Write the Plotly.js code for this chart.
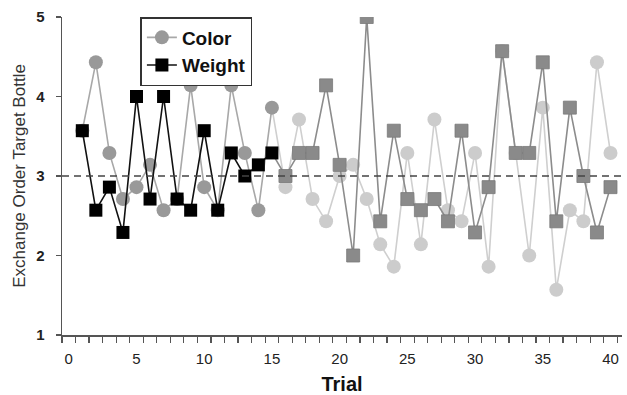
<!DOCTYPE html>
<html>
<head>
<meta charset="utf-8">
<script src="https://cdn.plot.ly/plotly-3.0.1.min.js"></script>
<style>html,body{margin:0;padding:0;background:#fff;}#chart{width:627px;height:395px;}</style>
</head>
<body>
<div id="chart"></div>
<script>
// Data (multiples of 1/7)
const trials = [1,2,3,4,5,6,7,8,9,10,11,12,13,14,15,16,17,18,19,20,
                21,22,23,24,25,26,27,28,29,30,31,32,33,34,35,36,37,38,39,40];
const colorVals = [3.57,4.43,3.29,2.71,2.86,3.14,2.57,2.71,4.14,2.86,
                   2.57,4.14,3.29,2.57,3.86,2.86,3.71,2.71,2.43,3.00,
                   3.14,2.71,2.14,1.86,3.29,2.14,3.71,2.57,2.43,3.29,
                   1.86,4.57,3.29,2.00,3.86,1.57,2.57,2.43,4.43,3.29];
const weightVals = [3.57,2.57,2.86,2.29,4.00,2.71,4.00,2.71,2.57,3.57,
                    2.57,3.29,3.00,3.14,3.29,3.00,3.29,3.29,4.14,3.14,
                    2.00,5.00,2.43,3.57,2.71,2.57,2.71,2.43,3.57,2.29,
                    2.86,4.57,3.29,3.29,4.43,2.43,3.86,3.00,2.29,2.86];
const seriesNames = ['Color', 'Weight'];
const chanceLevel = 3;
const phaseEnd = 15; // first phase: trials 1..15

const early = (a) => a.slice(0, phaseEnd);
const lateLine = (a) => a.slice(phaseEnd - 1);
const lateMk = (a) => a.slice(phaseEnd);

const FONT = 'Liberation Sans, Arial, sans-serif';

const traces = [
  // Color, late phase
  {x: lateLine(trials), y: lateLine(colorVals), mode: 'lines', type: 'scatter',
   line: {color: '#cfcfcf', width: 1.6}, showlegend: false, hoverinfo: 'skip'},
  {x: lateMk(trials), y: lateMk(colorVals), mode: 'markers', type: 'scatter',
   marker: {symbol: 'circle', size: 14, color: '#cccccc', line: {width: 0}}, showlegend: false},
  // Color, early phase
  {x: early(trials), y: early(colorVals), mode: 'lines+markers', type: 'scatter',
   name: seriesNames[0], legendgroup: 'c',
   line: {color: '#a8a8a8', width: 1.6},
   marker: {symbol: 'circle', size: 14, color: '#999999', line: {width: 0}}},
  // Weight, late phase
  {x: lateLine(trials), y: lateLine(weightVals), mode: 'lines', type: 'scatter',
   line: {color: '#8c8c8c', width: 1.6}, showlegend: false, hoverinfo: 'skip'},
  {x: lateMk(trials), y: lateMk(weightVals), mode: 'markers', type: 'scatter',
   marker: {symbol: 'square', size: 13, color: '#8a8a8a', line: {width: 0.8, color: '#7a7a7a'}}, showlegend: false},
  // Weight, early phase
  {x: early(trials), y: early(weightVals), mode: 'lines+markers', type: 'scatter',
   name: seriesNames[1], legendgroup: 'w',
   line: {color: '#111111', width: 1.6},
   marker: {symbol: 'square', size: 13, color: '#000000', line: {width: 0}}}
];

const layout = {
  width: 627, height: 395,
  margin: {l: 62, r: 5, t: 17, b: 60, pad: 0},
  paper_bgcolor: '#fff', plot_bgcolor: '#fff',
  font: {family: FONT, color: '#222'},
  showlegend: true,
  legend: {
    x: 0.140, y: 1.0, xanchor: 'left', yanchor: 'top',
    bgcolor: '#fff', bordercolor: '#333', borderwidth: 1.5,
    font: {family: FONT, size: 19, color: '#111', weight: 'bold'},
    traceorder: 'grouped', tracegroupgap: 0, itemwidth: 30,
    entrywidth: 118, entrywidthmode: 'pixels'
  },
  xaxis: {
    range: [-0.5, 40.85], showgrid: false, zeroline: false,
    showline: true, linecolor: '#555', linewidth: 1.5,
    tickmode: 'linear', tick0: 0, dtick: 5,
    ticks: '',
    minor: {dtick: 1, tick0: 0.5, ticks: 'outside', ticklen: 6, tickwidth: 1.2, tickcolor: '#555'},
    tickfont: {family: FONT, size: 15, color: '#222'},
    ticklabelstandoff: 9,
    title: {text: 'Trial', font: {family: FONT, size: 20, color: '#111', weight: 'bold'}, standoff: 11}
  },
  yaxis: {
    range: [1, 5], showgrid: false, zeroline: false,
    showline: true, linecolor: '#555', linewidth: 1.5,
    tickmode: 'linear', tick0: 1, dtick: 1,
    ticks: 'outside', ticklen: 5, tickwidth: 1.2, tickcolor: '#555',
    tickfont: {family: FONT, size: 15, color: '#222', weight: 'bold'},
    ticklabelstandoff: 8,
    title: {text: 'Exchange Order Target Bottle', font: {family: FONT, size: 17, color: '#333'}, standoff: 6}
  },
  shapes: [{
    type: 'line', xref: 'paper', yref: 'y', x0: 0, x1: 1, y0: chanceLevel, y1: chanceLevel,
    line: {color: '#444', width: 1.6, dash: '7px,5px'}, layer: 'above'
  }]
};

Plotly.newPlot('chart', traces, layout, {displayModeBar: false, staticPlot: true});
</script>
</body>
</html>
